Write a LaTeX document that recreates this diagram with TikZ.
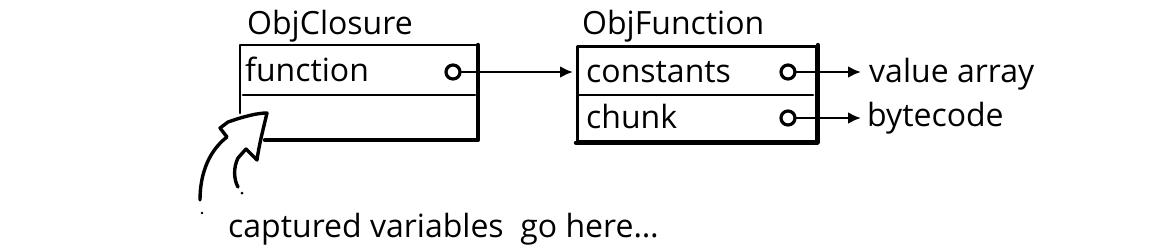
\documentclass[tikz,border=0pt]{standalone}
\usepackage{fontspec}
\setmainfont[Ligatures=NoCommon]{Open Sans}
\usetikzlibrary{arrows.meta,positioning}

\begin{document}
\begin{tikzpicture}[x=1pt,y=-1pt,>={Latex[length=13pt,width=12pt]},
    line cap=round,line join=round,
    txt/.style={font=\fontsize{32}{34}\selectfont,inner sep=0pt,anchor=base west},
    edge/.style={line width=2.8pt},
    heavy/.style={line width=4.4pt},
    port/.style={circle,draw,line width=3.2pt,minimum size=14pt,inner sep=0pt,fill=white},
    ptr/.style={->,line width=2.8pt}]
  \useasboundingbox (0,0) rectangle (1152,250);

  % ObjClosure
  \node[txt] (cltitle) at (247,34) {ObjClosure};
  \coordinate (clnw) at (240,45);
  \coordinate (clne) at (478,45);
  \coordinate (clse) at (478,140);
  \draw[edge] (240,113) -- (clnw) -- (clne);
  \draw[heavy] (clne) -- (clse) -- (265,140);
  \draw[edge] (243,95) -- (475,95);
  \node[txt] (clfn) at (245,81) {function};
  \node[port] (fnport) at (453,72) {};

  % ObjFunction
  \node[txt] (fntitle) at (582,34) {ObjFunction};
  \node[draw,edge,minimum width=239pt,minimum height=95pt,anchor=north west]
    (objfn) at (576,45) {};
  \draw[heavy] (objfn.north east) -- (objfn.south east) -- (objfn.south west);
  \draw[edge] (578,95) -- (813,95);
  \node[txt] (fnconst) at (586,82) {constants};
  \node[txt] (fnchunk) at (586,128) {chunk};
  \node[port] (constport) at (788,72) {};
  \node[port] (chunkport) at (788,118) {};

  % targets
  \node[txt] (valarr) at (869,82) {value array};
  \node[txt] (bytecode) at (867,126) {bytecode};

  \draw[ptr] (fnport.east) -- ([xshift=-3pt]fnport -| objfn.west);
  \draw[ptr] (constport.east) -- ([xshift=-8pt]constport -| valarr.west);
  \draw[ptr] (chunkport.east) -- ([xshift=-6pt]chunkport -| bytecode.west);

  % hand-drawn arrow into the empty slot
  \draw[line width=3.4pt]
    (200,200) .. controls (200,172) and (210,150) .. (227,137)
    -- (220,128) -- (228,122) .. controls (245,116) and (258,113) .. (267,113)
    .. controls (263,130) and (259,145) .. (257,160)
    -- (246,149) -- (238,158)
    .. controls (233,168) and (234,180) .. (238,187);
  \fill (242,193) circle (1.5pt);
  \fill (202,213) circle (1.3pt);

  \node[txt] (caption) at (228,237) {captured variables\ \ go here\dots};
\end{tikzpicture}
\end{document}
